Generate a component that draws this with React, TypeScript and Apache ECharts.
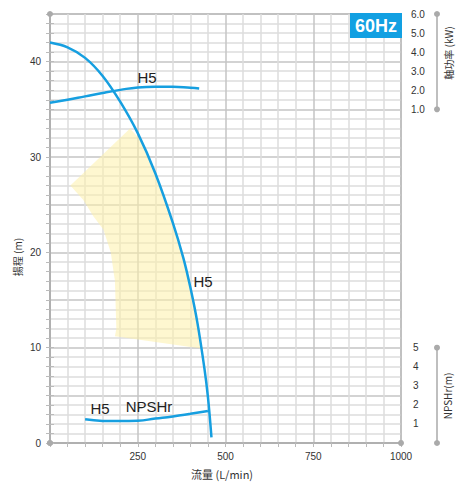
import React, { useEffect, useRef } from 'react';
import * as echarts from 'echarts';

// Head curve H5 (flow L/min -> head m)
const flowQ = [0, 50, 100, 150, 200, 250, 300, 350, 380, 400, 420, 440, 450, 460];
const headH = [42.0, 41.5, 40.4, 38.5, 35.8, 32.5, 28.3, 23.1, 19.4, 16.3, 12.6, 7.8, 4.8, 0.6];
// Shaft power curve H5 (flow -> kW)
const powerQ = [0, 50, 100, 150, 200, 250, 300, 350, 400, 425];
const powerKW = [1.35, 1.5, 1.68, 1.86, 2.02, 2.15, 2.19, 2.19, 2.13, 2.09];
// NPSHr curve H5 (flow -> m)
const npshQ = [100, 150, 200, 250, 300, 350, 400, 450];
const npshM = [1.24, 1.16, 1.15, 1.17, 1.28, 1.39, 1.53, 1.68];
// Recommended operating range (shaded area) vertices
const rangeQ = [228, 260, 300, 350, 380, 400, 420, 431, 185, 189, 185, 173, 152, 123, 95, 58];
const rangeH = [33.0, 31.7, 28.3, 23.1, 19.4, 16.3, 12.6, 9.9, 11.2, 12.0, 17.0, 20.0, 22.4, 23.8, 25.5, 27.0];

// Tick labels
const headLabels = [0, 10, 20, 30, 40];
const flowLabels = [250, 500, 750, 1000];
const kwLabels = [1, 2, 3, 4, 5, 6];
const npshLabels = [1, 2, 3, 4, 5];

const BLUE = '#169fe0';
const TXT = '#333';
const LBL_FONT = 'Liberation Sans, Arial, sans-serif';
const CJK_FONT = '"Noto Sans CJK JP", "Noto Sans", sans-serif';

export default function App() {
  const ref = useRef<HTMLDivElement>(null);
  useEffect(() => {
    document.body.style.margin = '0';
    if (!ref.current) return;
    const chart = echarts.init(ref.current, undefined, { renderer: 'svg' });
    const tickStyle = { color: '#bbb', width: 1 };
    const lineAxis = {
      show: true,
      symbol: ['circle', 'circle'],
      symbolSize: [6, 6],
      lineStyle: { color: '#aaa', width: 1.5 },
    };
    const option: any = {
      animation: false,
      grid: [
        { left: 50, top: 14, width: 351, height: 429, show: true, borderColor: '#b8b8b8', borderWidth: 2, backgroundColor: 'transparent' },
        { left: 50, top: 14, width: 351, height: 95.33 },
        { left: 50, top: 347.67, width: 351, height: 95.33 },
      ],
      xAxis: [
        {
          gridIndex: 0, type: 'value', min: 0, max: 1000, interval: 250,
          axisLine: { show: false },
          axisTick: { show: true, length: 4, lineStyle: tickStyle },
          minorTick: { show: true, splitNumber: 5, length: 4, lineStyle: tickStyle },
          splitLine: { show: true, lineStyle: { color: '#c4c4c4', width: 1.5 } },
          minorSplitLine: { show: true, lineStyle: { color: '#dddddd', width: 1.5 } },
          axisLabel: {
            margin: 8, fontSize: 10, color: TXT, fontFamily: LBL_FONT,
            showMinLabel: false,
            formatter: (v: number) => (flowLabels.includes(v) ? String(v) : ''),
          },
        },
        { gridIndex: 1, type: 'value', min: 0, max: 1000, show: false },
        { gridIndex: 2, type: 'value', min: 0, max: 1000, show: false },
        {
          gridIndex: 0, type: 'value', min: 0, max: 1000, position: 'bottom', offset: 23,
          axisLine: lineAxis, axisTick: { show: false }, axisLabel: { show: false }, splitLine: { show: false },
        },
      ],
      yAxis: [
        {
          gridIndex: 0, type: 'value', min: 0, max: 45, interval: 5, position: 'left',
          axisLine: { show: false },
          axisTick: { show: true, length: 4, lineStyle: tickStyle },
          minorTick: { show: true, splitNumber: 5, length: 4, lineStyle: tickStyle },
          splitLine: { show: true, lineStyle: { color: '#c4c4c4', width: 1.5 } },
          minorSplitLine: { show: true, lineStyle: { color: '#dddddd', width: 1.5 } },
          axisLabel: {
            margin: 9, fontSize: 10, color: TXT, fontFamily: LBL_FONT,
            formatter: (v: number) => (headLabels.includes(v) ? String(v) : ''),
          },
        },
        {
          gridIndex: 1, type: 'value', min: 1, max: 6, interval: 1, position: 'right',
          axisLine: { show: false },
          axisTick: { show: true, length: 4, lineStyle: tickStyle },
          minorTick: { show: true, splitNumber: 2, length: 4, lineStyle: tickStyle },
          splitLine: { show: false },
          axisLabel: {
            margin: 10, fontSize: 10, color: TXT, fontFamily: LBL_FONT,
            formatter: (v: number) => (kwLabels.includes(v) ? v.toFixed(1) : ''),
          },
        },
        {
          gridIndex: 2, type: 'value', min: 0, max: 5, interval: 1, position: 'right',
          axisLine: { show: false },
          axisTick: { show: true, length: 4, lineStyle: tickStyle },
          minorTick: { show: true, splitNumber: 2, length: 4, lineStyle: tickStyle },
          splitLine: { show: false },
          axisLabel: {
            margin: 12, fontSize: 10, color: TXT, fontFamily: LBL_FONT,
            formatter: (v: number) => (npshLabels.includes(v) ? String(v) : ''),
          },
        },
        {
          gridIndex: 0, type: 'value', min: 0, max: 45, position: 'left', offset: 27,
          axisLine: lineAxis, axisTick: { show: false }, axisLabel: { show: false }, splitLine: { show: false },
        },
        {
          gridIndex: 1, type: 'value', min: 1, max: 6, position: 'right', offset: 36,
          axisLine: lineAxis, axisTick: { show: false }, axisLabel: { show: false }, splitLine: { show: false },
        },
        {
          gridIndex: 2, type: 'value', min: 0, max: 5, position: 'right', offset: 36,
          axisLine: lineAxis, axisTick: { show: false }, axisLabel: { show: false }, splitLine: { show: false },
        },
      ],
      series: [
        {
          type: 'custom', xAxisIndex: 0, yAxisIndex: 0, silent: true,
          data: rangeQ.map((q, i) => [q, rangeH[i]]),
          renderItem: (params: any, api: any) => {
            if (params.dataIndex !== 0) return null;
            const pts = rangeQ.map((q, i) => api.coord([q, rangeH[i]]));
            return { type: 'polygon', shape: { points: pts }, style: { fill: 'rgba(253, 240, 170, 0.55)' } };
          },
        },
        {
          type: 'line', name: 'H5 揚程', xAxisIndex: 0, yAxisIndex: 0, smooth: 0.35, showSymbol: false,
          data: flowQ.map((q, i) => [q, headH[i]]),
          lineStyle: { color: BLUE, width: 2.5 },
        },
        {
          type: 'line', name: 'H5 軸功率', xAxisIndex: 1, yAxisIndex: 1, smooth: true, showSymbol: false,
          data: powerQ.map((q, i) => [q, powerKW[i]]),
          lineStyle: { color: BLUE, width: 2.5 },
        },
        {
          type: 'line', name: 'H5 NPSHr', xAxisIndex: 2, yAxisIndex: 2, smooth: true, showSymbol: false,
          data: npshQ.map((q, i) => [q, npshM[i]]),
          lineStyle: { color: BLUE, width: 2.5 },
        },
      ],
      graphic: [
        { type: 'rect', z: 100, shape: { x: 350, y: 13, width: 52, height: 25 }, style: { fill: '#12a0e2' } },
        { type: 'text', z: 101, x: 376, y: 26, style: { text: '60Hz', fill: '#fff', font: 'bold 18px "Liberation Sans", Arial, sans-serif', align: 'center', verticalAlign: 'middle' } },
        { type: 'text', z: 100, x: 147, y: 77, style: { text: 'H5', fill: '#222', font: `15px ${LBL_FONT}`, align: 'center', verticalAlign: 'middle' } },
        { type: 'text', z: 100, x: 203, y: 281, style: { text: 'H5', fill: '#222', font: `15px ${LBL_FONT}`, align: 'center', verticalAlign: 'middle' } },
        { type: 'text', z: 100, x: 100, y: 408, style: { text: 'H5', fill: '#222', font: `15px ${LBL_FONT}`, align: 'center', verticalAlign: 'middle' } },
        { type: 'text', z: 100, x: 149, y: 406, style: { text: 'NPSHr', fill: '#222', font: `15px ${LBL_FONT}`, align: 'center', verticalAlign: 'middle' } },
        { type: 'text', z: 100, x: 17.5, y: 257, rotation: Math.PI / 2, style: { text: '揚程 (m)', fill: TXT, font: `10px ${CJK_FONT}`, align: 'center', verticalAlign: 'middle' } },
        { type: 'text', z: 100, x: 448, y: 53, rotation: Math.PI / 2, style: { text: '軸功率 (kW)', fill: TXT, font: `10px ${CJK_FONT}`, align: 'center', verticalAlign: 'middle' } },
        { type: 'text', z: 100, x: 447, y: 396, rotation: Math.PI / 2, style: { text: 'NPSHr(m)', fill: TXT, font: `10px ${CJK_FONT}`, align: 'center', verticalAlign: 'middle' } },
        { type: 'text', z: 100, x: 222, y: 474, style: { text: '流量 (L/min)', fill: TXT, font: `11px ${CJK_FONT}`, align: 'center', verticalAlign: 'middle' } },
      ],
    };
    chart.setOption(option);
    return () => chart.dispose();
  }, []);
  return <div ref={ref} style={{ width: 456, height: 482 }} />;
}
